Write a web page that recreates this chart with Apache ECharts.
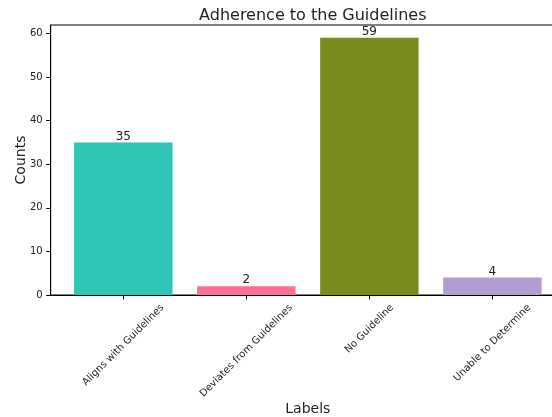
<!DOCTYPE html>
<html>
<head>
<meta charset="utf-8">
<script src="https://cdn.jsdelivr.net/npm/echarts@6/dist/echarts.min.js"></script>
<style>
html,body{margin:0;padding:0;background:#fff;}
#chart{width:552px;height:417px;}
</style>
</head>
<body>
<div id="chart"></div>
<script>
// Data
const categories = ['Aligns with Guidelines', 'Deviates from Guidelines', 'No Guideline', 'Unable to Determine'];
const counts = [35, 2, 59, 4];
const yTicks = [0, 10, 20, 30, 40, 50, 60];
const xTicks = [0, 1, 2, 3];

// Style
const barColors = ['#2EC4B6', '#FF6F91', '#7A8B1E', '#B39CD0'];
const FONT = 'DejaVu Sans';
const TXT = '#222';

// Measure tick label lengths to reproduce matplotlib-style centred rotated labels
const cv = document.createElement('canvas').getContext('2d');
cv.font = "10px 'DejaVu Sans'";
const rich = {};
categories.forEach((c, i) => {
  const L = cv.measureText(c).width;
  const h = 11.6;
  const D = 7 + (L + h) / (2 * Math.SQRT2);
  const S = Math.SQRT2 * D;
  rich['t' + i] = {fontSize: 10, fontFamily: FONT, color: TXT, verticalAlign: 'middle'};
  rich['s' + i] = {fontSize: 10, fontFamily: FONT, width: S, lineHeight: S, color: 'rgba(0,0,0,0)'};
});

const chart = echarts.init(document.getElementById('chart'), null, {renderer: 'canvas'});
chart.setOption({
  backgroundColor: '#fff',
  animation: false,
  textStyle: {fontFamily: FONT},
  title: {
    text: 'Adherence to the Guidelines',
    left: 307.8, top: 3, textAlign: 'center',
    textStyle: {fontSize: 16, fontWeight: 'normal', color: TXT, fontFamily: FONT}
  },
  grid: {
    left: 50.7, right: -13, top: 25, bottom: 122,
    containLabel: false, outerBoundsMode: 'none',
    show: true, borderColor: '#000', borderWidth: 1, backgroundColor: 'transparent'
  },
  xAxis: {
    type: 'value', min: -0.59, max: 3.59,
    name: 'Labels', nameLocation: 'middle', nameGap: 107, nameMoveOverlap: false,
    nameTextStyle: {fontSize: 14, color: TXT, fontFamily: FONT},
    axisLine: {show: true, onZero: false, lineStyle: {color: '#000', width: 1}},
    axisTick: {show: true, length: 4.5, customValues: xTicks, lineStyle: {color: '#000'}},
    splitLine: {show: false},
    axisLabel: {
      customValues: xTicks, rotate: 45, margin: 0,
      align: 'center', verticalAlign: 'top',
      formatter: function (v) {
        const i = Math.round(v);
        return '{t' + i + '|' + categories[i] + '}{s' + i + '| }';
      },
      rich: rich
    }
  },
  yAxis: {
    type: 'value', min: 0, max: 61.95,
    name: 'Counts', nameLocation: 'middle', nameGap: 22, nameRotate: 90, nameMoveOverlap: false,
    nameTextStyle: {fontSize: 14, color: TXT, fontFamily: FONT},
    axisLine: {show: true, onZero: false, lineStyle: {color: '#000', width: 1}},
    axisTick: {show: true, length: 4.5, customValues: yTicks, lineStyle: {color: '#000'}},
    splitLine: {show: false},
    axisLabel: {customValues: yTicks, margin: 8, fontSize: 10, color: TXT, fontFamily: FONT}
  },
  series: [{
    type: 'bar',
    barWidth: '80%',
    data: counts.map((v, i) => ({value: [i, v], itemStyle: {color: barColors[i]}})),
    label: {
      show: true, position: 'top', distance: 0,
      fontSize: 12, color: TXT, fontFamily: FONT,
      formatter: p => String(p.value[1])
    }
  }]
});
</script>
</body>
</html>
